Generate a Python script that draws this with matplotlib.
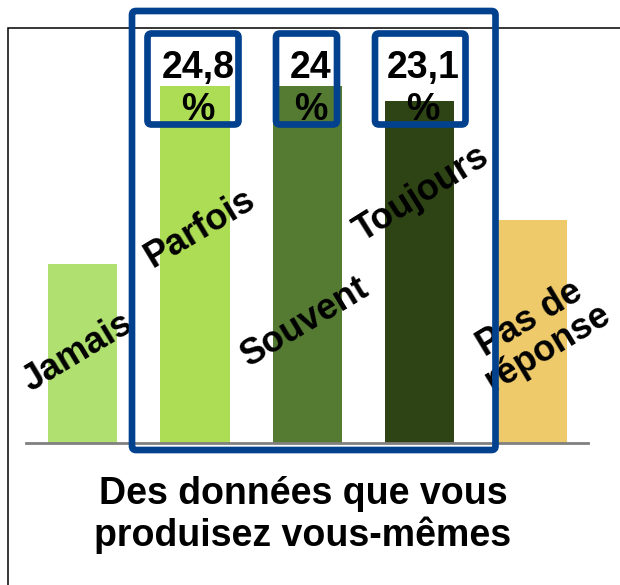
import numpy as np
import matplotlib.pyplot as plt
from matplotlib.patches import FancyBboxPatch, Rectangle
from matplotlib.transforms import IdentityTransform

# data
categories = ['Jamais', 'Parfois', 'Souvent', 'Toujours', 'Pas de\nréponse']
values = [12.4, 24.8, 24.8, 23.75, 15.5]
value_labels = ['', '24,8\n%', '24\n%', '23,1\n%', '']
colors = ['#B0E070', '#ADDC55', '#557B33', '#2E4415', '#EECA6B']
title = 'Des données que vous\nproduisez vous-mêmes'

W, H = 620, 585
BLUE = '#02418E'
plt.rcParams['font.family'] = ['Liberation Sans', 'DejaVu Sans']

fig = plt.figure(figsize=(W / 100, H / 100), dpi=100)

# outer thin frame (cut at right and bottom)
fig.add_artist(Rectangle((8, -20), 700, H - 28 + 20, transform=IdentityTransform(),
                         fill=False, edgecolor='black', linewidth=1.1))

ax = fig.add_axes([26 / W, 1 - 443 / H, (588 - 26) / W, (443 - 28) / H])
x = np.arange(len(categories))
ax.bar(x, values, width=0.615, color=colors, zorder=1)
ax.set_xlim(-0.503, 4.497)
ax.set_ylim(0, 415 / 14.4)
ax.set_xticks([])
ax.set_yticks([])
for s in ['top', 'left', 'right']:
    ax.spines[s].set_visible(False)
ax.spines['bottom'].set_color('#808080')
ax.spines['bottom'].set_linewidth(2)
ax.patch.set_alpha(0)

# rotated category labels inside the plot
lab_dx = [-0.04, 0.05, -0.02, 0.02, 0.06]
lab_y = [6.3, 14.9, 8.4, 17.3, 7.6]
lab_rot = [31, 31, 31, 32, 31]
for i, c in enumerate(categories):
    ax.text(x[i] + lab_dx[i], lab_y[i], c, rotation=lab_rot[i], ha='center', va='center',
            fontsize=26, fontweight='bold', linespacing=0.95, rotation_mode='anchor',
            zorder=5)

# value labels
for i, v in enumerate(value_labels):
    if v:
        ax.text(x[i] + 0.03, 24.6, v, ha='center', va='center', fontsize=27,
                fontweight='bold', linespacing=1.2, zorder=6)

# blue highlight boxes (pixel coords, y from top)
def box(x0, y0, x1, y1):
    fig.add_artist(FancyBboxPatch((x0, H - y1), x1 - x0, y1 - y0,
                                  boxstyle='round,pad=0,rounding_size=4',
                                  transform=IdentityTransform(), fill=False,
                                  edgecolor=BLUE, linewidth=4.8, zorder=10))

box(132, 11, 495.5, 450)
box(147.5, 33.5, 238.5, 124.5)
box(276, 33.5, 337, 124.5)
box(375, 33.5, 465.5, 124.5)

fig.text(303 / W, 1 - 515 / H, title, ha='center', va='center', fontsize=27,
         fontweight='bold', linespacing=1.12)

plt.savefig('out.png', dpi=100)
